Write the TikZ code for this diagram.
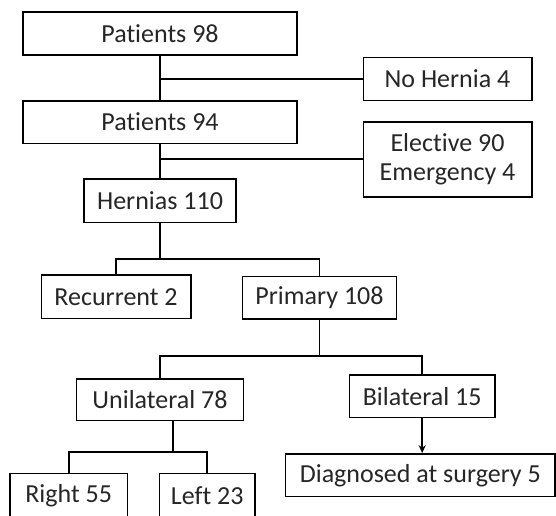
\documentclass[tikz,border=0pt]{standalone}
\usepackage{fontspec}
\setmainfont{Carlito}[Ligatures=NoCommon]
\usetikzlibrary{positioning, arrows.meta}

\begin{document}
\begin{tikzpicture}[x=1pt, y=-1pt, >={Stealth[length=8pt, width=7pt]}, line width=1.6pt,
    box/.style={draw, rectangle, inner sep=0pt, align=center, text=black!85,
        font=\fontsize{26}{29}\selectfont}]
    \useasboundingbox(0, 0)rectangle(556, 515);
    \clip(0, 0)rectangle(556, 515);
    \node[box, minimum width=273.7, minimum height=43](p98)at(160, 33.5){Patients 98};
    \node[box, minimum width=168.4, minimum height=43](nohernia)at(447.5, 78.8){No Hernia 4};
    \node[box, minimum width=273.7, minimum height=42.6](p94)at(160, 122){Patients 94};
    \node[box, minimum width=168.4, minimum height=75](elective)at(447.5, 159.2){Elective 90\\Emergency 4};
    \node[box, minimum width=152.4, minimum height=43.3](hernias)at(160, 200.7){Hernias 110};
    \node[box, minimum width=149.4, minimum height=43.3](recurrent)at(116, 296.7){Recurrent 2};
    \node[box, minimum width=153.7, minimum height=42.3](primary)at(319.5, 297.8){Primary 108};
    \node[box, minimum width=166.7, minimum height=41.7](unilateral)at(160, 399.8){Unilateral 78};
    \node[box, minimum width=145.7, minimum height=42.3](bilateral)at(422.2, 396.2){Bilateral 15};
    \node[box, minimum width=269.3, minimum height=42.7](diagnosed)at(420.3, 475.3){Diagnosed at surgery 5};
    \node[box, minimum width=117.3, minimum height=60](right)at(68.7, 503.3){};
    \node[box, minimum width=95.7, minimum height=60](left)at(207.2, 503.3){};
    \node[text=black!85, font=\fontsize{26}{29}\selectfont](rightlbl)at(68.7, 496){Right 55};
    \node[text=black!85, font=\fontsize{26}{29}\selectfont](leftlbl)at(207.2, 496){Left 23};
    % branch points
    \coordinate(s1)at(160, 258.7);
    \coordinate(s2)at(319.5, 356);
    \coordinate(s3)at(172.7, 451.7);
    \draw(p98)--(p94);
    \draw(p98.south |- nohernia.west)--(nohernia.west);
    \draw(p94)--(hernias);
    \draw(p94.south |- elective.west)--(elective.west);
    \draw(hernias.south)--(s1);
    \draw(recurrent.north)|-(s1)-|(primary.north);
    \draw(primary.south)--(s2);
    \draw(unilateral.north)|-(s2)-|(bilateral.north);
    \draw[->](bilateral.south)--(bilateral.south |- diagnosed.north);
    \draw(unilateral.south -| s3)--(s3);
    \draw(right.north)|-(s3)-|(left.north);
\end{tikzpicture}
\end{document}
